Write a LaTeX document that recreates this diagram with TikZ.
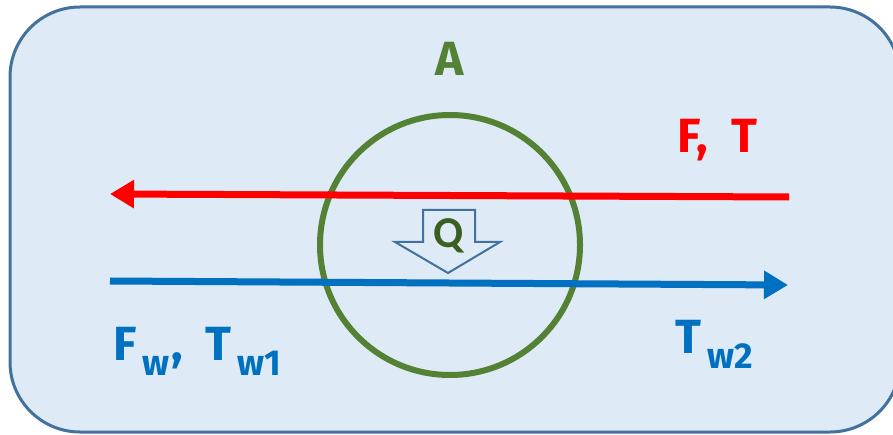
\documentclass[tikz,border=0pt]{standalone}
\usepackage{fontspec}
\setmainfont{Fira Sans}
\newfontfamily\qfont{Carlito}
\usetikzlibrary{arrows.meta}
\definecolor{panelfill}{HTML}{DEEAF6}
\definecolor{paneldraw}{HTML}{41719C}
\definecolor{ringgreen}{HTML}{548235}
\definecolor{qgreen}{HTML}{3B5E22}
\definecolor{flowred}{HTML}{FF0000}
\definecolor{flowblue}{HTML}{0070C0}
\newcommand{\lowsub}[1]{\raisebox{-0.32em}{\fontsize{36}{38}\selectfont\,#1\kern2pt}}

\begin{document}
\begin{tikzpicture}[x=1pt, y=-1pt,
  lab/.style={font=\bfseries\fontsize{48}{52}\selectfont, inner sep=0pt},
  flow/.style={line width=7pt, -{Triangle[length=24pt, width=27pt]}},
  ring/.style={circle, draw=ringgreen, line width=6pt, minimum size=260pt, inner sep=0pt}
]
\useasboundingbox (0,0) rectangle (893,435);
% panel
\draw[paneldraw, fill=panelfill, line width=3pt, rounded corners=70pt] (10,7) rectangle (900,432);

\node[ring] (ring) at (450,245) {};
\node[lab, text=ringgreen, anchor=base] (A) at (450,76) {A};

% streams
\coordinate (redR) at (789,197);
\coordinate (redL) at (110,194);
\coordinate (blueL) at (110,281);
\coordinate (blueR) at (788,285);
\draw[flow, flowred] (redR) -- (redL);
\draw[flow, flowblue] (blueL) -- (blueR);

% heat flow
\draw[paneldraw, fill=panelfill, line width=2pt, line join=miter]
  (423,210) -- (475,210) -- (475,242) -- (500,242) -- (448,273) -- (395,242) -- (423,242) -- cycle;
\node[font=\qfont\bfseries\fontsize{44}{48}\selectfont, text=qgreen, inner sep=0pt] (Q) at (449,236) {Q};

% labels
\node[lab, text=flowred, anchor=base west] (FT) at (677,153) {F,\ \ T};
\node[lab, text=flowblue, anchor=base west] (Fw) at (113,360) {F\lowsub{w},\ \ T\lowsub{w1}};
\node[lab, text=flowblue, anchor=base west] (Tw2) at (675,353) {T\lowsub{w2}};
\end{tikzpicture}
\end{document}
